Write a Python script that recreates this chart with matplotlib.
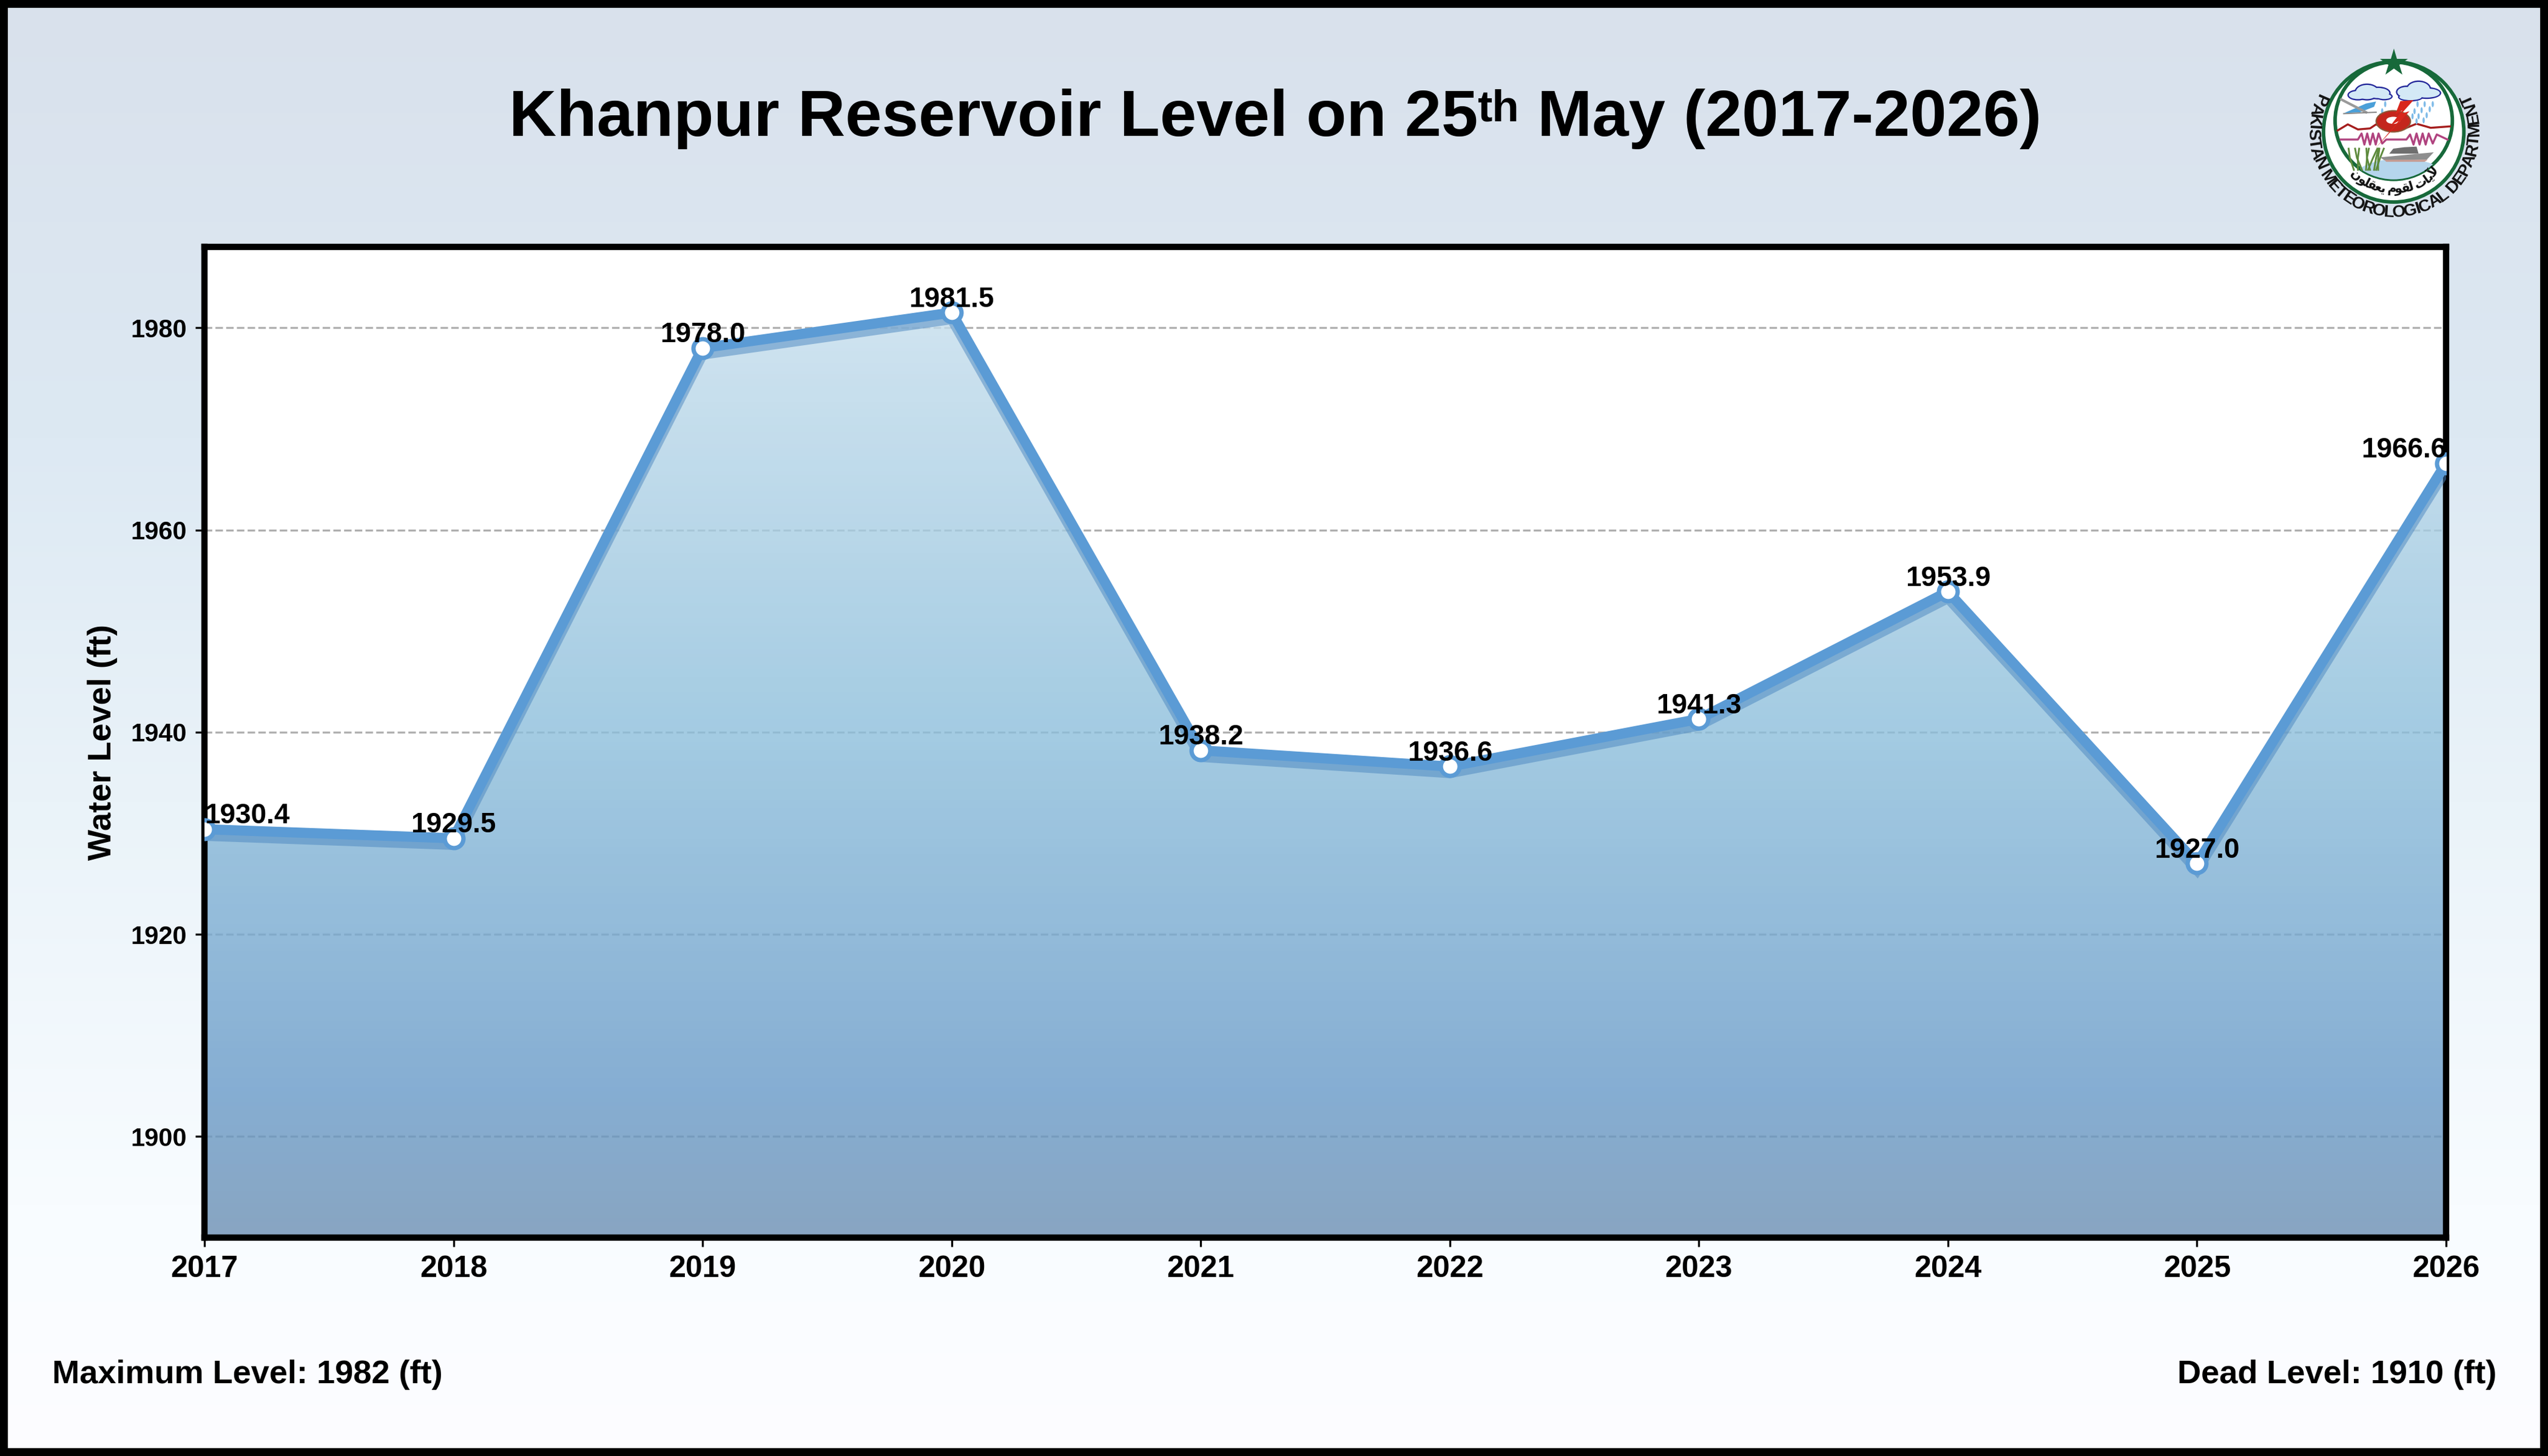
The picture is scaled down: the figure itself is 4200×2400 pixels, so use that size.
import numpy as np
import matplotlib
matplotlib.use('Agg')
import matplotlib.pyplot as plt
import matplotlib.patheffects as pe
from matplotlib.colors import LinearSegmentedColormap
from matplotlib.font_manager import FontProperties
from matplotlib.patches import Circle, Ellipse, Polygon, Rectangle
from matplotlib.textpath import text_to_path

plt.rcParams['font.family'] = ['Liberation Sans', 'DejaVu Sans']
plt.rcParams['font.weight'] = 'bold'

years = [2017, 2018, 2019, 2020, 2021, 2022, 2023, 2024, 2025, 2026]
levels = [1930.4, 1929.5, 1978.0, 1981.5, 1938.2, 1936.6, 1941.3, 1953.9, 1927.0, 1966.6]
y_ticks = [1900, 1920, 1940, 1960, 1980]
title_parts = ['Khanpur Reservoir Level on 25', 'th', ' May (2017-2026)']
max_label = 'Maximum Level: 1982 (ft)'
dead_label = 'Dead Level: 1910 (ft)'

W, H = 4200, 2400
LINE = '#5B9BD5'
GREEN = '#17693A'
bg_stops = [(0.0, '#d9e1ec'), (0.3, '#dde9f3'), (0.55, '#eaf3f9'), (0.83, '#f8fcff'), (1.0, '#fdfdff')]
fill_stops = [(0.0, (212, 230, 241)), (0.07, (208, 228, 240)), (0.486, (164, 204, 227)),
              (0.853, (134, 174, 211)), (1.0, (136, 165, 194))]
FILL_ALPHA = 0.8


def draw_logo(fig):
    # everything here is in 3x crop units of the logo corner
    la = fig.add_axes([3700 / W, 1 - 400 / H, 500 / W, 350 / H], zorder=5)
    la.set_xlim(0, 1500)
    la.set_ylim(1050, 0)
    la.axis('off')

    la.add_patch(Circle((737, 502), 347, fc='white', ec=GREEN, lw=1.4))
    inner = Circle((737, 447), 290, fc='white', ec=GREEN, lw=1.4, zorder=4)
    la.add_patch(inner)
    la.plot([737], [163], marker='*', ms=11.4, color=GREEN, mew=0, zorder=6)

    # water, reeds and ship
    water = Ellipse((770, 720), 440, 170, fc='#b5d5ec', ec='none', zorder=4.1)
    la.add_patch(water)
    water.set_clip_path(inner)
    for x0, dx in [(530, -10), (550, 10), (570, -15), (590, 15), (610, -5), (630, 20), (650, 10), (600, 35), (640, 30)]:
        la.plot([x0 + 10, x0 + dx, x0 + dx * 1.6], [690, 630, 585], color='#5d8a3c', lw=0.7, zorder=4.2)
    la.add_patch(Polygon([(670, 628), (935, 603), (900, 640), (690, 642)], fc='#8e8e8e', ec='none', zorder=4.2))
    la.add_patch(Polygon([(715, 610), (735, 585), (790, 578), (850, 575), (860, 610)], fc='#6f6f6f', ec='none', zorder=4.2))
    la.add_patch(Polygon([(690, 640), (905, 640), (890, 650), (700, 650)], fc='#c79a90', ec='none', zorder=4.2))

    # trace lines
    wx = [460, 510, 560, 620, 650, 700, 780, 850, 920, 1015]
    wy = [495, 465, 490, 485, 465, 492, 490, 462, 482, 475]
    la.plot(wx, wy, color='#a51d1d', lw=0.8, zorder=4.3)
    px = [475, 560, 578, 592, 606, 620, 634, 648, 662, 680, 700, 800, 818, 835, 850, 865, 880, 895, 910, 930, 950, 1003]
    py = [540, 540, 510, 565, 510, 565, 510, 565, 510, 560, 540, 540, 515, 565, 510, 565, 510, 565, 510, 560, 515, 540]
    la.plot(px, py, color='#b0437f', lw=0.8, zorder=4.3)

    # clouds
    for cx, cy, parts in [(620, 305, [(-60, 15, 90, 40), (-15, 0, 110, 70), (40, 5, 110, 50), (70, 22, 70, 25)]),
                          (860, 300, [(-60, 5, 90, 50), (0, -10, 110, 70), (40, 10, 130, 45), (-40, 30, 110, 30)])]:
        for dx, dy, w, h in parts:
            la.add_patch(Ellipse((cx + dx, cy + dy), w + 14, h + 14, fc='#24289a', ec='none', zorder=4.4))
        for dx, dy, w, h in parts:
            la.add_patch(Ellipse((cx + dx, cy + dy), w, h, fc='#d4e9f6', ec='none', zorder=4.5))
    drops = [(695, 365), (680, 400), (670, 425), (855, 365), (890, 365), (930, 365), (840, 400), (875, 395),
             (915, 390), (830, 425), (860, 425), (900, 420), (850, 450), (885, 445)]
    for dx, dy in drops:
        la.add_patch(Ellipse((dx, dy), 11, 30, fc='#7fbbe8', ec='none', zorder=4.4))

    # plane
    la.add_patch(Polygon([(490, 410), (600, 362), (650, 352), (640, 378), (570, 405)], fc='#4a9fd8', ec='none', zorder=4.6))
    la.plot([478, 600], [342, 405], color='#9a9a9a', lw=1.0, zorder=4.6)
    la.plot([490, 650], [412, 405], color='#8a8a8a', lw=0.5, zorder=4.6)

    # gear ring and lightning
    la.add_patch(Ellipse((735, 450), 170, 105, fc='#c4261d', ec='#8a5a3a', lw=0.5, zorder=4.7))
    la.add_patch(Ellipse((735, 445), 70, 35, fc='white', ec='none', zorder=4.8))
    la.add_patch(Polygon([(835, 345), (770, 350), (745, 415), (780, 395), (722, 470), (762, 448), (645, 585),
                          (815, 400), (775, 412)], fc='#d8261c', ec='none', zorder=4.9))

    def on_arc(chars, r, a0, a1, size, family, cx=737, cy=502):
        fp = FontProperties(family=family, weight='bold', size=size)
        widths = [text_to_path.get_text_width_height_descent(c, fp, False)[0] for c in chars]
        total = sum(widths)
        pos = 0
        for c, w in zip(chars, widths):
            a = np.radians(a0 + (a1 - a0) * (pos + w / 2) / total)
            la.text(cx + r * np.cos(a), cy - r * np.sin(a), c, fontproperties=fp, color='#111111',
                    rotation=np.degrees(a) - 270, rotation_mode='anchor', ha='center', va='center', zorder=7)
            pos += w

    on_arc('PAKISTAN METEOROLOGICAL DEPARTMENT', 400, 153, 387, 6.8, 'Liberation Sans')
    # motto, contextual forms given in display order
    motto = '\ufee5\ufeee\ufee0\ufed8\ufecc\ufef3 \ufee1\ufeee\ufed8\ufedf \ufe95\ufe8e\ufef3\ufef5'
    on_arc(motto, 285, 225, 318, 5.0, 'DejaVu Sans')


fig = plt.figure(figsize=(14, 8), dpi=300)

bg = fig.add_axes([0, 0, 1, 1], zorder=0)
bg.imshow(np.linspace(0, 1, 512).reshape(-1, 1), aspect='auto',
          cmap=LinearSegmentedColormap.from_list('bg', bg_stops), vmin=0, vmax=1)
bg.axis('off')

ax = fig.add_axes([337 / W, 1 - 2040 / H, (4032 - 337) / W, (2040 - 407) / H], zorder=2)
ax.set_facecolor('white')
y_min, y_max = 1890, 1988
x_min, x_max = years[0], years[-1]

ax.set_axisbelow(True)
ax.yaxis.grid(True, linestyle='--', color='#b0b0b0', linewidth=0.8, zorder=1)

# gradient under the line, clipped to the area polygon
fill_cols = [(p, tuple((v - 255 * (1 - FILL_ALPHA)) / FILL_ALPHA / 255 for v in c)) for p, c in fill_stops]
poly = ax.fill_between(years, levels, y_min, color='none')
im = ax.imshow(np.linspace(0, 1, 512).reshape(-1, 1), extent=[x_min, x_max, y_min, y_max], aspect='auto',
               cmap=LinearSegmentedColormap.from_list('fill', fill_cols), vmin=0, vmax=1,
               alpha=FILL_ALPHA, zorder=1.5)
im.set_clip_path(poly.get_paths()[0], transform=ax.transData)

ax.plot(years, levels, color=LINE, linewidth=4, zorder=3, solid_joinstyle='miter',
        path_effects=[pe.SimpleLineShadow(offset=(0, -2.6), shadow_color='#4a86c0', alpha=0.5), pe.Normal()])
ax.plot(years, levels, linestyle='none', marker='o', markersize=7.4, markerfacecolor='white',
        markeredgecolor=LINE, markeredgewidth=1.7, zorder=3.2)

for i, (yr, lv) in enumerate(zip(years, levels)):
    ha = 'left' if i == 0 else 'right' if i == len(years) - 1 else 'center'
    ax.annotate(f'{lv:.1f}', (yr, lv), xytext=(0, 2.3), textcoords='offset points', ha=ha, va='baseline',
                fontsize=11, fontweight='bold', color='black', zorder=4)

ax.set_xlim(x_min, x_max)
ax.set_ylim(y_min, y_max)
ax.set_xticks(years)
ax.set_yticks(y_ticks)
ax.tick_params(axis='x', labelsize=12)
ax.tick_params(axis='y', labelsize=10)
ax.set_ylabel('Water Level (ft)', fontsize=13, fontweight='bold', labelpad=5)
for s in ax.spines.values():
    s.set_linewidth(2.5)
    s.set_color('black')

# title in three pieces so the ordinal sits level with the top of the digits
sizes = [26, 17.5, 26]
y_base = [224, 199, 224]
fps = [FontProperties(family='Liberation Sans', weight='bold', size=s) for s in sizes]
widths = [text_to_path.get_text_width_height_descent(t, fp, False)[0] * 300 / 72 for t, fp in zip(title_parts, fps)]
x_px = 2102 - sum(widths) / 2
for t, fp, w, yb in zip(title_parts, fps, widths, y_base):
    fig.text(x_px / W, 1 - yb / H, t, fontproperties=fp, ha='left', va='baseline', zorder=4)
    x_px += w

fig.text(86 / W, 1 - 2280 / H, max_label, fontsize=13, fontweight='bold', ha='left', va='baseline', zorder=4)
fig.text(4115 / W, 1 - 2280 / H, dead_label, fontsize=13, fontweight='bold', ha='right', va='baseline', zorder=4)

draw_logo(fig)

fig.add_artist(Rectangle((0, 0), 1, 1, transform=fig.transFigure, fill=False, ec='black', lw=6.2, clip_on=True))

fig.savefig('out.png', dpi=300)
